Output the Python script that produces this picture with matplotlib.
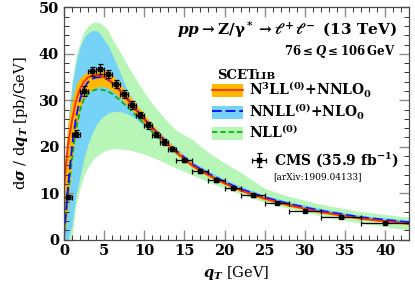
import matplotlib
matplotlib.use("Agg")
import matplotlib.pyplot as plt
from matplotlib.patches import Patch
from matplotlib.lines import Line2D
from matplotlib.ticker import MultipleLocator

plt.rcParams["font.family"] = "DejaVu Serif"
plt.rcParams["font.weight"] = "bold"
plt.rcParams["mathtext.fontset"] = "dejavuserif"
plt.rcParams["mathtext.default"] = "bf"

# CMS data, bin edges and values
bin_lo = [0, 1, 2, 3, 4, 5, 6, 7, 8, 9, 10, 11, 12, 13, 14, 16, 18, 20, 22, 25, 28, 32, 37]
bin_hi = [1, 2, 3, 4, 5, 6, 7, 8, 9, 10, 11, 12, 13, 14, 16, 18, 20, 22, 25, 28, 32, 37, 43]
data_y = [9.2, 22.8, 32.0, 36.2, 36.7, 35.6, 33.5, 31.3, 29.0, 26.8, 24.6, 22.6, 21.0,
          19.5, 17.1, 14.8, 12.8, 11.1, 9.5, 7.8, 6.25, 4.8, 3.65]
data_err = [0.4, 0.8, 1.0, 1.0, 1.0, 0.9, 0.9, 0.8, 0.8, 0.7, 0.7, 0.6, 0.6, 0.5,
            0.5, 0.4, 0.4, 0.3, 0.3, 0.25, 0.2, 0.15, 0.12]

# predictions
qt = [0, 0.25, 0.5, 1, 1.5, 2, 2.5, 3, 3.5, 4, 4.5, 5, 5.5, 6, 7, 8, 9, 10, 11, 12,
      13, 14, 16, 18, 20, 22, 25, 28, 32, 37, 43]
n3ll = [10.5, 16, 20.3, 25.6, 29.8, 32.4, 34.0, 34.9, 35.3, 35.4, 35.3, 35.0, 34.5, 33.8,
        32.0, 29.9, 27.8, 25.8, 23.9, 22.0, 20.4, 18.8, 15.9, 13.9, 12.1, 10.6, 8.8, 7.4,
        5.9, 4.5, 3.4]
n3ll_lo = [0, 3, 7, 16.5, 23, 28, 30.3, 31.6, 32.4, 32.8, 33.0, 32.9, 32.6, 32.0, 30.6,
           28.8, 26.9, 25.0, 23.2, 21.4, 19.9, 18.3, 15.5, 13.5, 11.8, 10.3, 8.5, 7.1,
           5.7, 4.3, 3.2]
n3ll_hi = [14, 20, 24.8, 30.0, 33.2, 34.8, 35.6, 36.2, 36.6, 36.9, 36.9, 36.7, 36.2, 35.5,
           33.6, 31.4, 29.2, 27.0, 24.9, 22.9, 21.2, 19.5, 16.5, 14.4, 12.5, 11.0, 9.1,
           7.7, 6.1, 4.7, 3.6]
nnll = [0.5, 6, 11, 19.8, 26.2, 30.2, 32.6, 33.9, 34.6, 34.9, 35.0, 34.8, 34.4, 33.8,
        32.1, 30.1, 28.0, 26.0, 24.1, 22.3, 20.7, 19.1, 16.2, 14.2, 12.4, 10.9, 9.1, 7.7,
        6.2, 4.8, 3.7]
nnll_lo = [0, 0, 0, 3, 9.5, 13.5, 17.5, 20.5, 22.8, 24.6, 25.8, 26.6, 27.2, 27.5, 27.6,
           27.0, 25.9, 24.4, 22.9, 21.3, 19.8, 18.3, 15.5, 13.5, 11.8, 10.3, 8.5, 7.2,
           5.7, 4.4, 3.3]
nnll_hi = [12, 18, 25, 33, 38, 41.5, 43.5, 44.5, 45.0, 45.0, 44.4, 43.0, 41.8, 40.0, 35.9,
           31.8, 28.9, 26.8, 24.8, 23.0, 21.3, 19.7, 16.8, 14.8, 13.0, 11.5, 9.6, 8.2,
           6.7, 5.2, 4.2]
nll = [1, 5, 9.5, 17.3, 23.6, 27.8, 30.3, 31.4, 32.0, 32.3, 32.3, 32.2, 31.9, 31.4, 30.0,
       28.4, 26.7, 24.9, 23.2, 21.6, 20.1, 18.7, 16.0, 13.9, 12.2, 10.7, 8.9, 7.5, 6.0,
       4.6, 3.5]
nll_lo = [0, 0, 0, 0.3, 7.3, 11, 13.8, 15.6, 16.9, 17.9, 18.5, 19.0, 19.3, 19.5, 19.5,
          19.3, 18.9, 18.4, 17.7, 17.0, 16.2, 15.4, 13.9, 12.4, 11.0, 9.8, 8.0, 6.7, 5.1,
          3.5, 2.0]
nll_hi = [12.5, 18.5, 25.5, 34, 39.5, 42.5, 44.8, 46.0, 46.7, 46.8, 46.6, 46.0, 45.0, 43.3,
          40.4, 37.3, 34.5, 31.7, 29.3, 27.2, 25.2, 23.5, 21.5, 18.8, 16.5, 14.5, 11.0,
          9.3, 7.6, 6.0, 4.8]

C_ORANGE, C_BLUE, C_GREEN = "#ffb800", "#76d3f7", "#b8f6b8"

fig = plt.figure(figsize=(4.15, 2.95), dpi=100)
ax = fig.add_axes([0.154, 0.188, 0.832, 0.787])

ax.fill_between(qt, nll_lo, nll_hi, color=C_GREEN, lw=0)
ax.fill_between(qt, nnll_lo, nnll_hi, color=C_BLUE, lw=0)
ax.fill_between(qt, n3ll_lo, n3ll_hi, color=C_ORANGE, lw=0)
ax.plot(qt, nll, color="#10b010", ls=(0, (3, 1.6)), lw=1.3)
ax.plot(qt, nnll, color="#1010ff", ls=(0, (5, 2)), lw=1.4)
ax.plot(qt, n3ll, color="#ff2a00", lw=1.3)

xc = [(a + b) / 2 for a, b in zip(bin_lo, bin_hi)]
xe = [(b - a) / 2 for a, b in zip(bin_lo, bin_hi)]
cms = ax.errorbar(xc, data_y, xerr=xe, yerr=data_err, fmt="s", ms=2.5, color="black",
                  ecolor="black", elinewidth=0.9, capsize=1.8, capthick=0.9)

ax.set_xlim(0, 43)
ax.set_ylim(0, 50)
ax.xaxis.set_major_locator(MultipleLocator(5))
ax.xaxis.set_minor_locator(MultipleLocator(1))
ax.yaxis.set_major_locator(MultipleLocator(10))
ax.yaxis.set_minor_locator(MultipleLocator(2))
ax.tick_params(which="both", direction="in", top=True, right=True, labelsize=10.5)
ax.tick_params(which="major", length=7, width=1, color="0.55")
ax.tick_params(which="minor", length=3.5, width=0.7, color="0.2")
for s in ax.spines.values():
    s.set_color("0.3")
    s.set_linewidth(0.9)
for lab in ax.get_xticklabels() + ax.get_yticklabels():
    lab.set_fontweight("bold")

ax.set_xlabel(r"$\mathbfit{q}_{\mathbfit{T}}$ [GeV]", fontsize=10.5, labelpad=4)
ax.set_ylabel(r"d$\mathbfit{\sigma}$ / d$\mathbfit{q}_{\mathbfit{T}}$ [pb/GeV]",
              fontsize=10.5, labelpad=6)

ax.text(0.965, 0.905, r"$\mathbfit{pp}\rightarrow Z/\gamma^*\rightarrow\ell^+\ell^-$ (13 TeV)",
        transform=ax.transAxes, ha="right", va="center", fontsize=11)
ax.text(0.962, 0.81, r"$76 \leq \mathbfit{Q} \leq 106\,$GeV",
        transform=ax.transAxes, ha="right", va="center", fontsize=8.5)

ax.text(0.443, 0.708, "SCET", transform=ax.transAxes, ha="left", va="center", fontsize=9.5)
ax.text(0.553, 0.704, "LIB", transform=ax.transAxes, ha="left", va="center", fontsize=7.5)

handles = [
    (Patch(color=C_ORANGE, lw=0), Line2D([], [], color="#ff2a00", lw=1.3)),
    (Patch(color=C_BLUE, lw=0), Line2D([], [], color="#1010ff", ls=(0, (5, 2)), lw=1.4)),
    (Patch(color=C_GREEN, lw=0), Line2D([], [], color="#10b010", ls=(0, (3, 1.6)), lw=1.3)),
]
labels = [r"N$^3$LL$^{(0)}$+NNLO$_0$", r"NNLL$^{(0)}$+NLO$_0$", r"NLL$^{(0)}$"]
leg = ax.legend(handles, labels, loc="upper left", bbox_to_anchor=(0.43, 0.69),
                frameon=False, fontsize=10, handlelength=2.2, handleheight=1.1,
                labelspacing=0.1, handletextpad=0.45, borderpad=0, borderaxespad=0)
ax.add_artist(leg)

leg2 = ax.legend([cms], [r"CMS (35.9 fb$^{-1}$)"], loc="upper left",
                 bbox_to_anchor=(0.54, 0.385), frameon=False, fontsize=10,
                 handlelength=1.3, handletextpad=0.4, borderpad=0, borderaxespad=0)
ax.text(0.605, 0.27, "[arXiv:1909.04133]", transform=ax.transAxes, ha="left",
        va="center", fontsize=6.5, fontweight="normal")

fig.savefig("out.png", dpi=100)
